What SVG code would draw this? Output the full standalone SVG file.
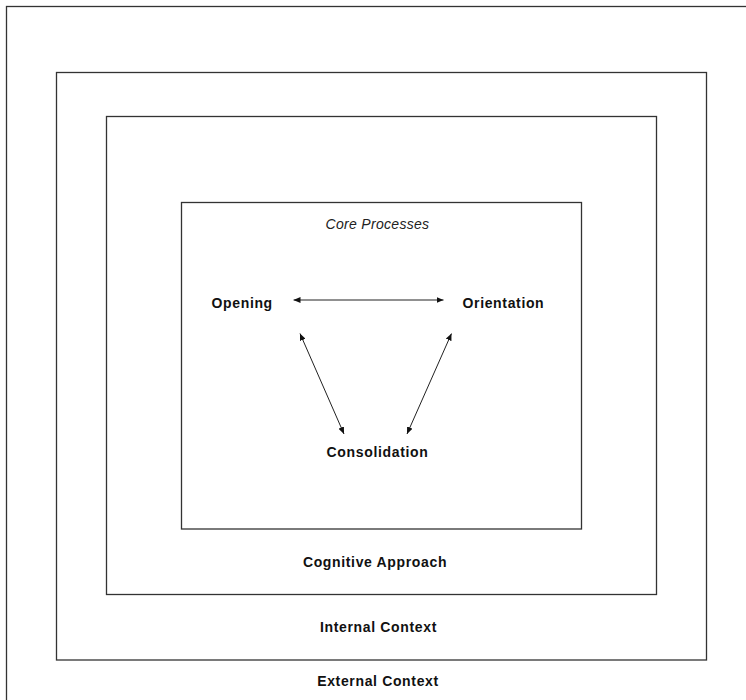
<svg xmlns="http://www.w3.org/2000/svg" width="746" height="700" viewBox="0 0 746 700">
<style>
.box{fill:none;stroke:#333;stroke-width:1.3}
.lbl{font-family:"Liberation Sans",Arial,sans-serif;font-size:14px;font-weight:bold;fill:#111;letter-spacing:0.65px}
.it{font-family:"Liberation Sans",Arial,sans-serif;font-size:14px;font-style:italic;fill:#222;letter-spacing:0.3px}
.con{stroke:#222;stroke-width:1;fill:none;marker-start:url(#ah);marker-end:url(#ah)}
</style>
<defs>
<marker id="ah" viewBox="0 0 7 6" refX="7" refY="3" markerWidth="7" markerHeight="6" markerUnits="userSpaceOnUse" orient="auto-start-reverse">
<path d="M0,0 L7,3 L0,6 Z" fill="#111"/>
</marker>
</defs>
<rect width="746" height="700" fill="#fff"/>
<g id="external-context">
<rect class="box" x="6.5" y="6.5" width="760" height="760"/>
<text class="lbl" x="378" y="686" text-anchor="middle">External Context</text>
</g>
<g id="internal-context">
<rect class="box" x="56.5" y="72.5" width="650" height="587.5"/>
<text class="lbl" x="378.5" y="632" text-anchor="middle">Internal Context</text>
</g>
<g id="cognitive-approach">
<rect class="box" x="106.5" y="116.5" width="550" height="478"/>
<text class="lbl" x="375" y="566.5" text-anchor="middle">Cognitive Approach</text>
</g>
<g id="core-processes">
<rect class="box" x="181.5" y="202.5" width="400" height="326.5"/>
<text class="it" x="377.5" y="228.5" text-anchor="middle">Core Processes</text>
</g>
<g id="opening">
<text class="lbl" x="211.5" y="308">Opening</text>
</g>
<g id="orientation">
<text class="lbl" x="462.5" y="308">Orientation</text>
</g>
<g id="consolidation">
<text class="lbl" x="377.5" y="457" text-anchor="middle">Consolidation</text>
</g>
<g id="connectors">
<line class="con" x1="293.5" y1="300" x2="443.5" y2="300"/>
<line class="con" x1="300" y1="333.5" x2="344" y2="434"/>
<line class="con" x1="451.5" y1="333.5" x2="407" y2="434"/>
</g>
</svg>
